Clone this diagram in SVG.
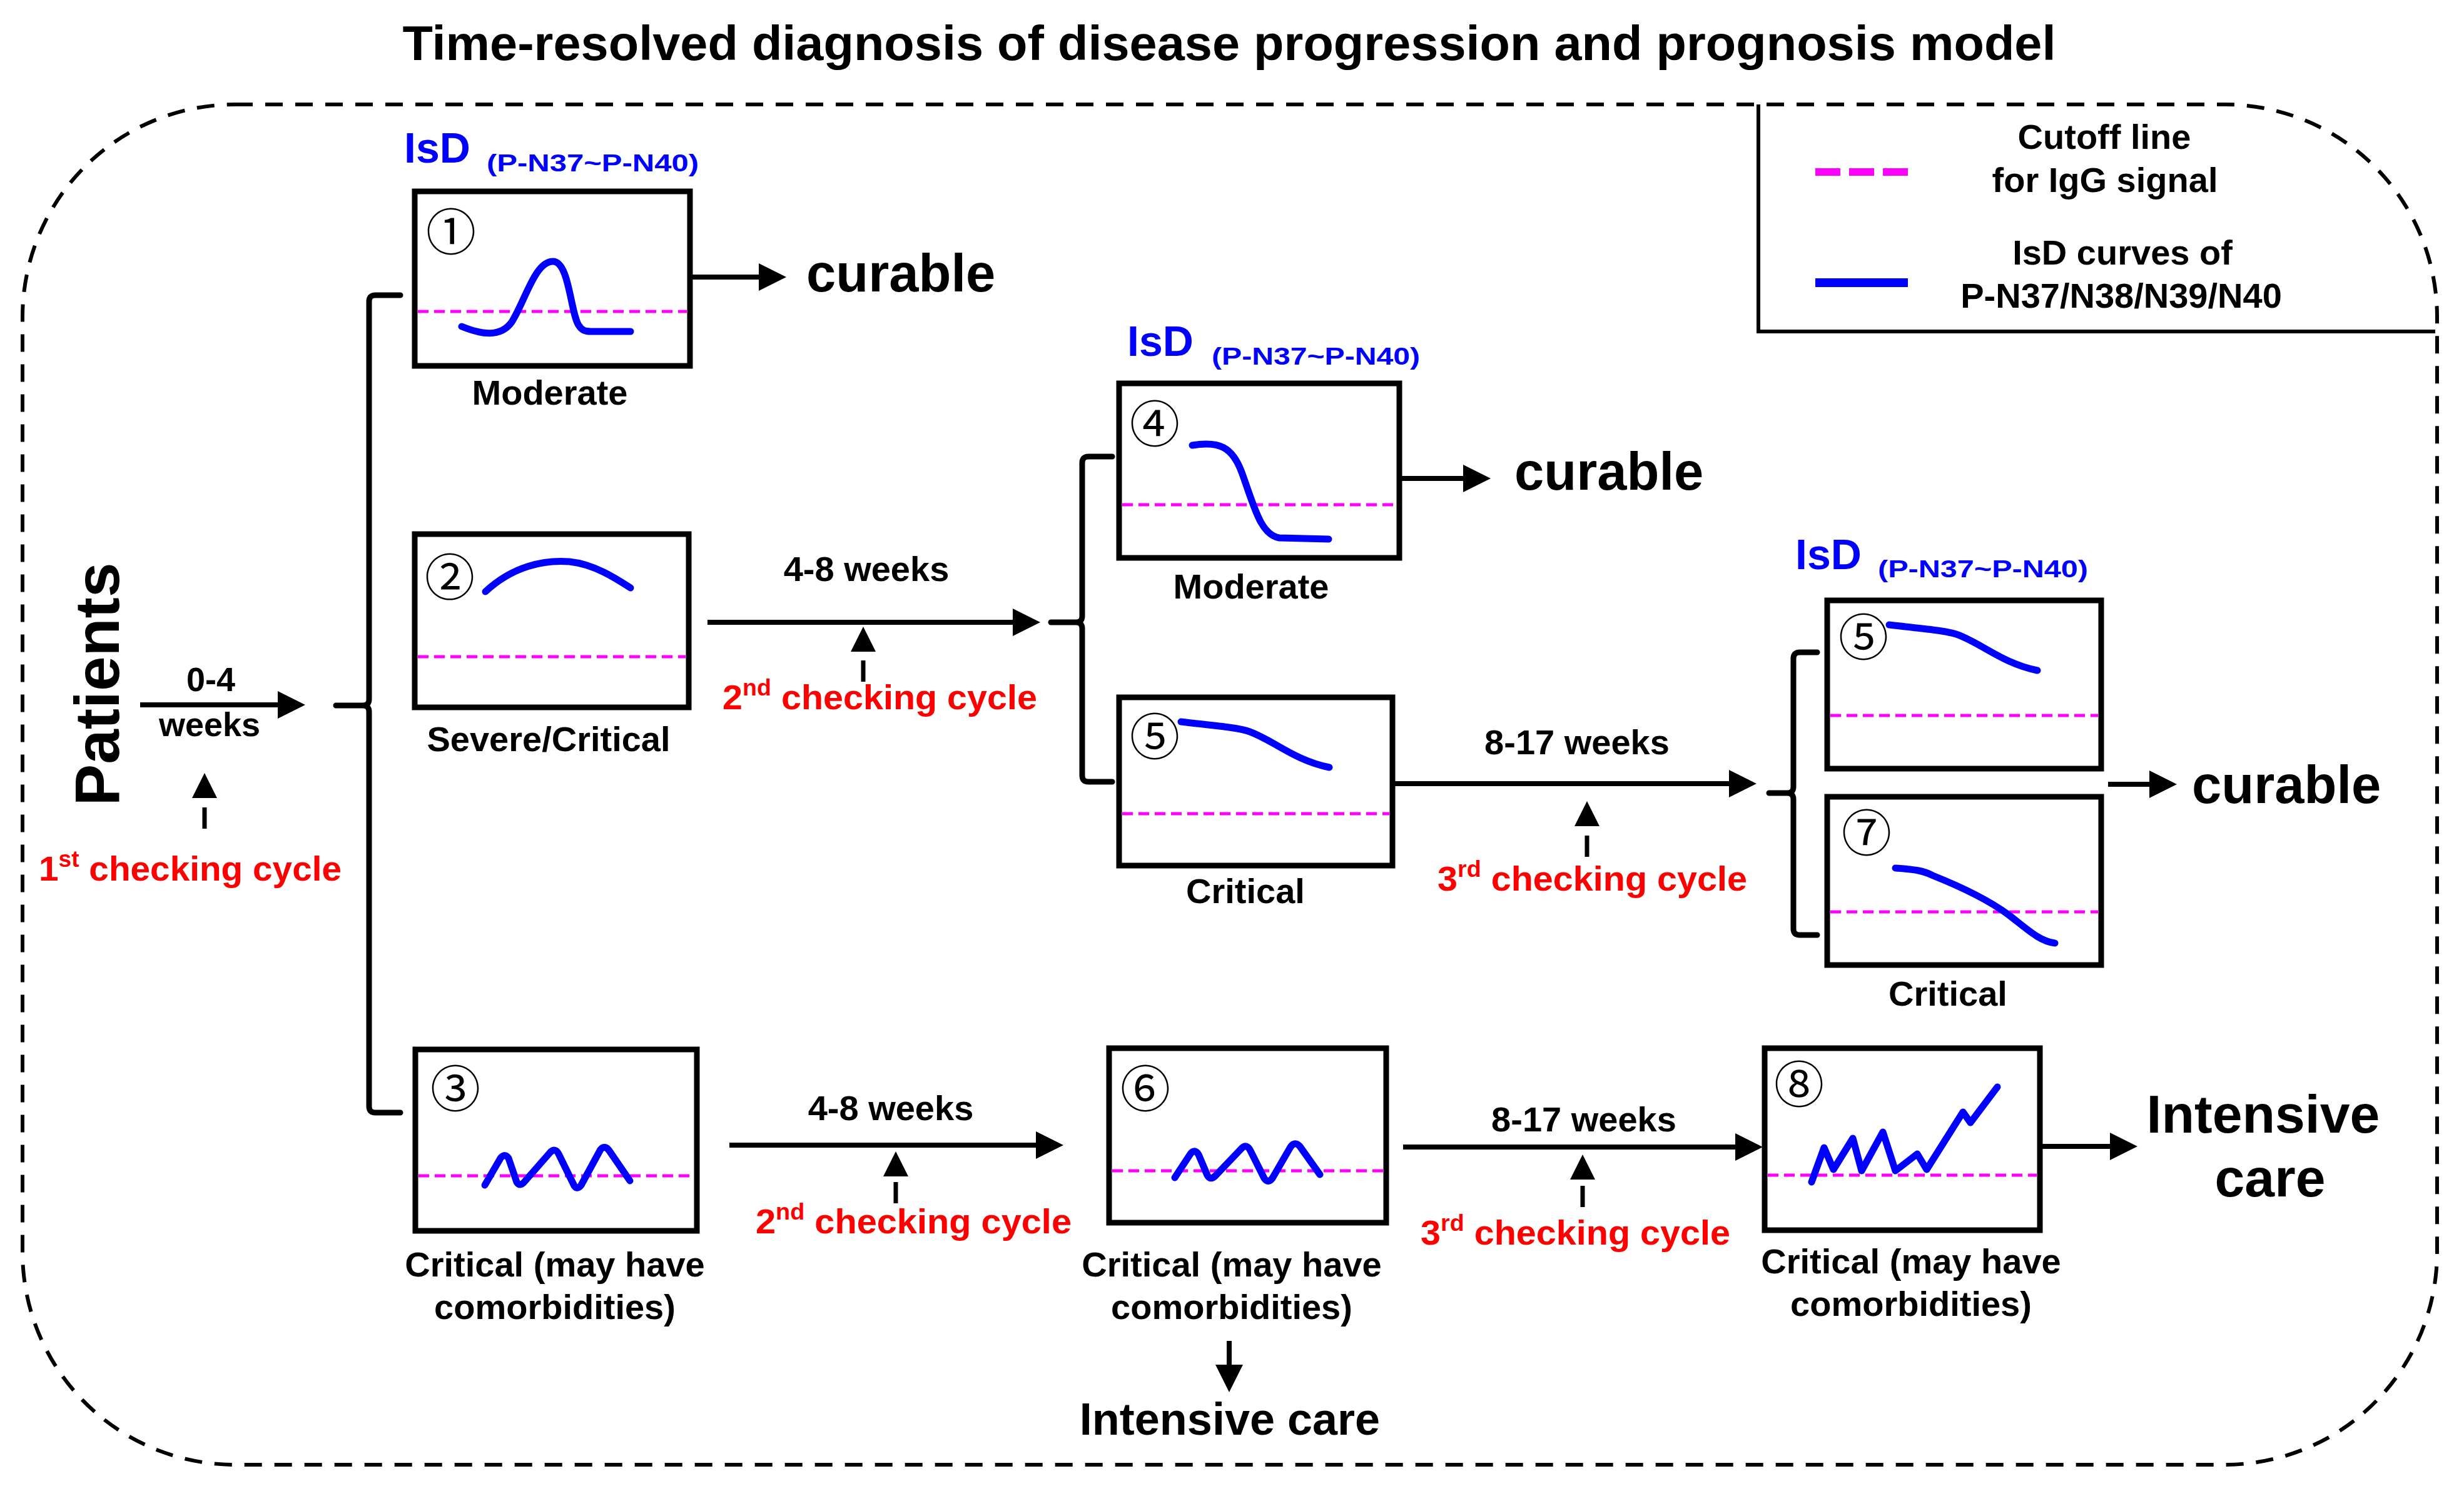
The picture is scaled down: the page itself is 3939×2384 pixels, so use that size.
<svg xmlns="http://www.w3.org/2000/svg" width="3939" height="2384" viewBox="0 0 3939 2384">
<defs>
<style>
.box{fill:#fff;stroke:#000;stroke-width:9}
.cut{stroke:#FF00FF;stroke-width:5;stroke-dasharray:17 9;fill:none}
.curve{stroke:#0000FF;stroke-width:11;fill:none;stroke-linecap:round;stroke-linejoin:round}
.t{font-family:"Liberation Sans",Arial,sans-serif;font-weight:bold;fill:#000}
.lbl{font-size:56px;text-anchor:middle}
.red{fill:#FF0000}
.blue{fill:#0000FF}
.num{font-family:"Noto Sans CJK JP","DejaVu Sans",sans-serif;font-size:80px;text-anchor:middle;fill:#000}
.arr{stroke:#000;stroke-width:8;fill:none;marker-end:url(#ah)}
.darr{stroke:#000;stroke-width:7;fill:none;stroke-dasharray:34 16;marker-end:url(#ahs)}
.brk{stroke:#000;stroke-width:9;fill:none;stroke-linecap:round;stroke-linejoin:round}
.big{font-size:85px}
.isd{font-size:68px}
.sub{font-size:38px}
</style>
<marker id="ah" viewBox="0 -22 44 44" markerWidth="44" markerHeight="44" refX="2" refY="0" orient="auto" markerUnits="userSpaceOnUse"><path d="M0,-22 L44,0 L0,22 z" fill="#000"/></marker>
<marker id="ahs" viewBox="0 -20 40 40" markerWidth="40" markerHeight="40" refX="2" refY="0" orient="auto" markerUnits="userSpaceOnUse"><path d="M0,-20 L40,0 L0,20 z" fill="#000"/></marker>
</defs>
<rect width="3939" height="2384" fill="#fff"/>

<text class="t" x="1965" y="96" font-size="78" text-anchor="middle" textLength="2643" lengthAdjust="spacingAndGlyphs">Time-resolved diagnosis of disease progression and prognosis model</text>

<rect id="frame" x="36" y="167" width="3860" height="2175" rx="340" ry="340" fill="none" stroke="#000" stroke-width="6" stroke-dasharray="28 20"/>

<g id="legend">
<path d="M2811,167 V530 H3893" fill="none" stroke="#000" stroke-width="6"/>
<line x1="2902" y1="275" x2="3050" y2="275" stroke="#FF00FF" stroke-width="12" stroke-dasharray="40 14"/>
<line x1="2902" y1="452" x2="3050" y2="452" stroke="#0000FF" stroke-width="14"/>
<text class="t lbl" x="3364" y="238">Cutoff line</text>
<text class="t lbl" x="3365" y="307">for IgG signal</text>
<text class="t lbl" x="3393" y="423">IsD curves of</text>
<text class="t lbl" x="3391" y="492">P-N37/N38/N39/N40</text>
</g>

<g id="patients">
<text class="t" transform="translate(190,1094) rotate(-90)" font-size="100" text-anchor="middle">Patients</text>
</g>

<g id="isd-labels">
<text class="t blue isd" x="646" y="260">IsD</text>
<text class="t blue sub" x="778" y="274" textLength="339" lengthAdjust="spacingAndGlyphs">(P-N37~P-N40)</text>
<text class="t blue isd" x="1802" y="569">IsD</text>
<text class="t blue sub" x="1937" y="583" textLength="333" lengthAdjust="spacingAndGlyphs">(P-N37~P-N40)</text>
<text class="t blue isd" x="2870" y="910">IsD</text>
<text class="t blue sub" x="3002" y="923" textLength="336" lengthAdjust="spacingAndGlyphs">(P-N37~P-N40)</text>
</g>

<g id="node-1">
<rect class="box" x="663" y="306" width="440" height="279"/>
<line class="cut" x1="668" y1="498" x2="1098" y2="498"/>
<path class="curve" d="M738,522 C770,535 800,540 818,515 C840,480 855,418 884,418 C910,418 912,500 925,520 C930,528 935,530 945,530 L1008,530"/>
<text class="num" x="721" y="400">①</text>
<text class="t lbl" x="879" y="647">Moderate</text>
</g>

<g id="node-2">
<rect class="box" x="663" y="854" width="438" height="277"/>
<line class="cut" x1="668" y1="1050" x2="1096" y2="1050"/>
<path class="curve" d="M776,946 C820,905 870,895 910,898 C950,902 985,925 1008,940"/>
<text class="num" x="719" y="952">②</text>
<text class="t lbl" x="877" y="1201">Severe/Critical</text>
</g>

<g id="node-3">
<rect class="box" x="664" y="1678" width="450" height="290"/>
<line class="cut" x1="669" y1="1880" x2="1109" y2="1880"/>
<path class="curve" d="M775,1895 L800,1852 Q807,1843 813,1852 L826,1890 Q831,1898 838,1890 L880,1842 Q888,1835 893,1845 L918,1896 Q923,1903 929,1895 L960,1838 Q967,1830 974,1840 L1007,1888"/>
<text class="num" x="728" y="1770">③</text>
<text class="t lbl" x="887" y="2041">Critical (may have</text>
<text class="t lbl" x="887" y="2109">comorbidities)</text>
</g>

<g id="node-4">
<rect class="box" x="1789" y="613" width="448" height="279"/>
<line class="cut" x1="1794" y1="807" x2="2232" y2="807"/>
<path class="curve" d="M1906,712 C1950,705 1970,715 1985,755 C2005,810 2015,855 2045,860 L2124,862"/>
<text class="num" x="1846" y="707">④</text>
<text class="t lbl" x="2000" y="957">Moderate</text>
</g>

<g id="node-5a">
<rect class="box" x="1789" y="1115" width="437" height="269"/>
<line class="cut" x1="1794" y1="1301" x2="2221" y2="1301"/>
<path class="curve" d="M1888,1154 C1938,1160 1978,1163 1998,1170 C2038,1185 2068,1215 2125,1227"/>
<text class="num" x="1846" y="1207">⑤</text>
<text class="t lbl" x="1991" y="1444">Critical</text>
</g>

<g id="node-5b">
<rect class="box" x="2921" y="960" width="438" height="269"/>
<line class="cut" x1="2926" y1="1144" x2="3354" y2="1144"/>
<path class="curve" d="M3020,999 C3070,1005 3110,1008 3130,1015 C3170,1030 3200,1060 3257,1072"/>
<text class="num" x="2979" y="1048">⑤</text>
</g>

<g id="node-7">
<rect class="box" x="2921" y="1274" width="438" height="269"/>
<line class="cut" x1="2926" y1="1458" x2="3354" y2="1458"/>
<path class="curve" d="M3030,1388 C3060,1390 3075,1392 3090,1400 C3140,1420 3180,1440 3210,1462 C3240,1485 3260,1505 3285,1508"/>
<text class="num" x="2984" y="1361">⑦</text>
<text class="t lbl" x="3114" y="1608">Critical</text>
</g>

<g id="node-6">
<rect class="box" x="1773" y="1676" width="443" height="279"/>
<line class="cut" x1="1778" y1="1872" x2="2211" y2="1872"/>
<path class="curve" d="M1878,1883 L1903,1845 Q1910,1836 1916,1846 L1930,1879 Q1935,1888 1943,1880 L1985,1836 Q1993,1828 1999,1840 L2021,1884 Q2027,1893 2034,1884 L2063,1834 Q2070,1824 2078,1833 L2110,1878"/>
<text class="num" x="1831" y="1770">⑥</text>
<text class="t lbl" x="1969" y="2041">Critical (may have</text>
<text class="t lbl" x="1969" y="2109">comorbidities)</text>
</g>

<g id="node-8">
<rect class="box" x="2821" y="1676" width="440" height="291"/>
<line class="cut" x1="2826" y1="1879" x2="3256" y2="1879"/>
<path class="curve" d="M2896,1890 L2916,1835 L2931,1870 L2962,1820 L2976,1872 L3010,1810 L3030,1872 L3065,1845 L3080,1870 L3138,1778 L3150,1795 L3193,1738"/>
<text class="num" x="2876" y="1763">⑧</text>
<text class="t lbl" x="3055" y="2036">Critical (may have</text>
<text class="t lbl" x="3055" y="2104">comorbidities)</text>
</g>

<g id="outcomes">
<text class="t big" x="1289" y="466">curable</text>
<text class="t big" x="2421" y="783">curable</text>
<text class="t big" x="3504" y="1284">curable</text>
<text class="t" x="3618" y="1811" font-size="86" text-anchor="middle">Intensive</text>
<text class="t" x="3629" y="1913" font-size="86" text-anchor="middle">care</text>
<text class="t" x="1966" y="2294" font-size="72" text-anchor="middle">Intensive care</text>
</g>

<g id="time-labels">
<text class="t" x="337" y="1105" font-size="54" text-anchor="middle">0-4</text>
<text class="t" x="335" y="1177" font-size="54" text-anchor="middle">weeks</text>
<text class="t lbl" x="1385" y="929">4-8 weeks</text>
<text class="t lbl" x="2521" y="1206">8-17 weeks</text>
<text class="t lbl" x="1424" y="1791">4-8 weeks</text>
<text class="t lbl" x="2532" y="1809">8-17 weeks</text>
<text class="t red" x="62" y="1408" font-size="55" textLength="484" lengthAdjust="spacingAndGlyphs">1<tspan dy="-22" font-size="36">st</tspan><tspan dy="22"> checking  cycle</tspan></text>
<text class="t red" x="1155" y="1134" font-size="55" textLength="503" lengthAdjust="spacingAndGlyphs">2<tspan dy="-22" font-size="36">nd</tspan><tspan dy="22"> checking  cycle</tspan></text>
<text class="t red" x="2298" y="1424" font-size="55" textLength="495" lengthAdjust="spacingAndGlyphs">3<tspan dy="-22" font-size="36">rd</tspan><tspan dy="22"> checking  cycle</tspan></text>
<text class="t red" x="1208" y="1972" font-size="55" textLength="505" lengthAdjust="spacingAndGlyphs">2<tspan dy="-22" font-size="36">nd</tspan><tspan dy="22"> checking  cycle</tspan></text>
<text class="t red" x="2271" y="1990" font-size="55" textLength="495" lengthAdjust="spacingAndGlyphs">3<tspan dy="-22" font-size="36">rd</tspan><tspan dy="22"> checking  cycle</tspan></text>
</g>

<g id="connectors">
<path class="brk" d="M640,472 H600 Q590,472 590,482 V1118 Q590,1128 580,1128 H537 M640,1779 H600 Q590,1779 590,1769 V1138 Q590,1128 580,1128"/>
<path class="brk" d="M1778,730 H1740 Q1730,730 1730,740 V985 Q1730,995 1720,995 H1680 M1778,1250 H1740 Q1730,1250 1730,1240 V1005 Q1730,995 1720,995"/>
<path class="brk" d="M2905,1043 H2877 Q2867,1043 2867,1053 V1258 Q2867,1268 2857,1268 H2828 M2905,1495 H2877 Q2867,1495 2867,1485 V1278 Q2867,1268 2857,1268"/>
<line class="arr" x1="224" y1="1127" x2="446" y2="1127"/>
<line class="arr" x1="1107" y1="443" x2="1215" y2="443"/>
<line class="arr" x1="1131" y1="995" x2="1621" y2="995"/>
<line class="arr" x1="2241" y1="765" x2="2341" y2="765"/>
<line class="arr" x1="2230" y1="1253" x2="2766" y2="1253"/>
<line class="arr" x1="3370" y1="1254" x2="3438" y2="1254"/>
<line class="arr" x1="1166" y1="1831" x2="1658" y2="1831"/>
<line class="arr" x1="2243" y1="1834" x2="2776" y2="1834"/>
<line class="arr" x1="3265" y1="1833" x2="3375" y2="1833"/>
<line class="arr" x1="1965" y1="2144" x2="1965" y2="2184"/>
<line class="darr" x1="327" y1="1325" x2="327" y2="1274"/>
<line class="darr" x1="1380" y1="1090" x2="1380" y2="1040"/>
<line class="darr" x1="2537" y1="1370" x2="2537" y2="1319"/>
<line class="darr" x1="1432" y1="1924" x2="1432" y2="1879"/>
<line class="darr" x1="2530" y1="1930" x2="2530" y2="1884"/>
</g>
</svg>
